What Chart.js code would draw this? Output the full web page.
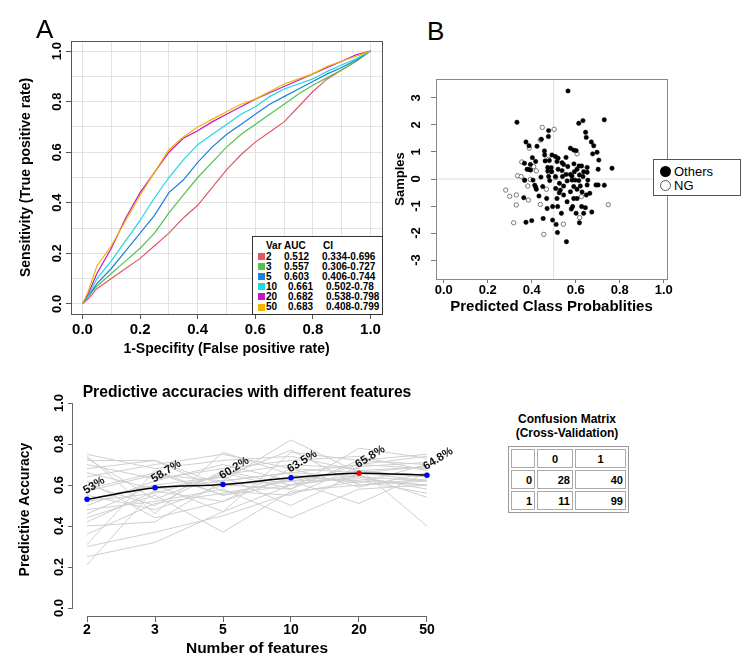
<!DOCTYPE html>
<html>
<head>
<meta charset="utf-8">
<script src="https://cdn.jsdelivr.net/npm/chart.js@4.4.1/dist/chart.umd.min.js"></script>
<style>
  body { margin: 0; background: #fff; font-family: "Liberation Sans", Arial, sans-serif; }
  #page { position: relative; width: 756px; height: 668px; overflow: hidden; background: #fff; }
  canvas { position: absolute; }
  .tag { position: absolute; font-size: 26px; line-height: 26px; color: #000; }
  #rocLegend { position: absolute; left: 252px; top: 236px; width: 129px; height: 77px;
    border: 1px solid #333; background: #fff; font-weight: bold; font-size: 10px; }
  #rocLegend span { position: absolute; line-height: 10px; white-space: pre; }
  #rocLegend .sw { position: absolute; left: 5px; width: 7px; height: 7px; }
  #probLegend { position: absolute; left: 653px; top: 159px; width: 86px; height: 35px;
    border: 1px solid #555; background: #fff; font-size: 13px; }
  #probLegend div { position: absolute; left: 20px; line-height: 14px; }
  #probLegend i { position: absolute; left: 6px; width: 11px; height: 11px; border-radius: 50%; box-sizing: border-box; }
  #cmTitle { position: absolute; left: 497px; top: 412px; width: 140px; text-align: center;
    font-weight: bold; font-size: 12px; line-height: 14px; }
  #cm { position: absolute; left: 508px; top: 446px; border-collapse: separate; border-spacing: 2px;
    border: 1px solid #999; font-size: 11px; font-weight: bold; }
  #cm td { border: 1px solid #aaa; height: 17px; padding: 0 2px; }
</style>
</head>
<body>
<div id="page">
  <canvas id="roc" width="392" height="370" style="left:0;top:0"></canvas>
  <canvas id="probs" width="300" height="265" style="left:380px;top:60px"></canvas>
  <canvas id="acc" width="494" height="298" style="left:0;top:370px"></canvas>
  <div class="tag" style="left:36px;top:16px">A</div>
  <div class="tag" style="left:427px;top:18px">B</div>
  <div id="rocLegend"></div>
  <div id="probLegend"></div>
  <div id="cmTitle">Confusion Matrix<br>(Cross-Validation)</div>
  <table id="cm"></table>
</div>
<script>
const FONT = '"Liberation Sans", Arial, sans-serif';
Chart.defaults.font.family = FONT;
Chart.defaults.color = '#000';

// ---- panel A: ROC curves ----
const rocFpr = [0, 0.02, 0.05, 0.1, 0.15, 0.2, 0.25, 0.3, 0.35, 0.4, 0.45, 0.5, 0.55, 0.6, 0.65, 0.7, 0.75, 0.8, 0.85, 0.9, 0.95, 1];
const tpr2  = [0, 0.02, 0.06, 0.10, 0.14, 0.18, 0.23, 0.28, 0.34, 0.39, 0.46, 0.53, 0.59, 0.64, 0.68, 0.72, 0.78, 0.84, 0.89, 0.925, 0.96, 1];
const tpr3  = [0, 0.03, 0.07, 0.12, 0.17, 0.22, 0.28, 0.36, 0.43, 0.50, 0.56, 0.62, 0.67, 0.71, 0.75, 0.79, 0.83, 0.865, 0.895, 0.925, 0.96, 1];
const tpr5  = [0, 0.03, 0.08, 0.14, 0.21, 0.28, 0.35, 0.44, 0.49, 0.56, 0.62, 0.67, 0.71, 0.75, 0.79, 0.82, 0.85, 0.88, 0.91, 0.935, 0.965, 1];
const tpr10 = [0, 0.03, 0.10, 0.17, 0.25, 0.33, 0.42, 0.50, 0.57, 0.63, 0.67, 0.71, 0.75, 0.78, 0.82, 0.85, 0.87, 0.89, 0.92, 0.945, 0.97, 1];
const tpr20 = [0, 0.04, 0.12, 0.22, 0.34, 0.44, 0.52, 0.60, 0.655, 0.685, 0.72, 0.75, 0.78, 0.81, 0.835, 0.86, 0.885, 0.91, 0.935, 0.96, 0.985, 1];
const tpr50 = [0, 0.05, 0.15, 0.23, 0.33, 0.43, 0.52, 0.61, 0.66, 0.70, 0.73, 0.76, 0.79, 0.81, 0.84, 0.87, 0.89, 0.91, 0.94, 0.96, 0.98, 1];
const rocVars = ['2', '3', '5', '10', '20', '50'];
const rocAuc = ['0.512', '0.557', '0.603', '0.661', '0.682', '0.683'];
const rocCi = ['0.334-0.696', '0.306-0.727', '0.406-0.744', '0.502-0.78', '0.538-0.798', '0.408-0.799'];
const rocColors = ['#e0566c', '#52c24c', '#1f7fdc', '#1ed8e2', '#c416c4', '#f2b400'];
const rocTicks = [0, 0.1, 0.2, 0.3, 0.4, 0.5, 0.6, 0.7, 0.8, 0.9, 1];

// ---- panel B: predicted class probabilities ----
const othersPoints = [
  [0.565,3.26],[0.333,2.10],[0.730,2.19],[0.633,2.16],[0.614,2.06],[0.477,1.79],[0.476,1.57],[0.444,1.47],
  [0.645,1.73],[0.648,1.54],[0.374,1.37],[0.388,1.23],[0.424,1.21],[0.671,1.37],[0.682,1.23],[0.576,1.14],
  [0.591,1.07],[0.602,1.05],[0.697,0.99],[0.677,0.93],[0.458,1.04],[0.459,0.89],[0.492,0.89],[0.508,0.83],
  [0.520,0.77],[0.515,0.65],[0.403,0.79],[0.418,0.65],[0.394,0.54],[0.461,0.67],[0.480,0.68],[0.556,0.80],
  [0.545,0.54],[0.564,0.46],[0.592,0.56],[0.615,0.48],[0.627,0.48],[0.705,0.70],[0.702,0.36],[0.765,0.40],
  [0.367,0.58],[0.379,0.36],[0.395,0.33],[0.473,0.43],[0.489,0.42],[0.473,0.30],[0.520,0.36],[0.538,0.31],
  [0.556,0.17],[0.576,0.17],[0.594,0.27],[0.606,0.36],[0.636,0.27],[0.652,0.25],[0.442,0.07],[0.477,0.09],
  [0.508,0.09],[0.406,-0.04],[0.414,-0.23],[0.418,-0.30],[0.368,-0.04],[0.450,-0.28],[0.509,-0.35],[0.530,-0.41],
  [0.561,-0.07],[0.583,-0.04],[0.597,-0.04],[0.614,-0.06],[0.591,-0.28],[0.606,-0.38],[0.621,-0.26],[0.629,-0.48],
  [0.652,-0.22],[0.664,-0.53],[0.692,-0.22],[0.702,-0.22],[0.730,-0.23],[0.433,-0.63],[0.468,-0.72],[0.515,-0.72],
  [0.545,-0.59],[0.561,-0.84],[0.591,-0.72],[0.606,-0.72],[0.648,-0.59],[0.364,-0.69],[0.470,-1.09],[0.495,-1.02],
  [0.518,-1.02],[0.535,-1.27],[0.586,-1.02],[0.580,-1.11],[0.627,-1.02],[0.644,-1.06],[0.602,-1.27],[0.636,-1.27],
  [0.673,-1.22],[0.374,-1.60],[0.400,-1.54],[0.452,-1.46],[0.495,-1.52],[0.511,-1.68],[0.617,-1.62],[0.517,-1.98],
  [0.558,-2.32],[0.421,-0.38],[0.576,-0.47],[0.540,0.09],[0.583,0.11],[0.617,0.15],[0.633,0.09],[0.526,-0.16],
  [0.545,-0.26],[0.482,-0.06],[0.538,0.60],[0.491,0.27],[0.655,-0.04],[0.652,0.43],[0.525,-0.51],[0.388,0.35]
];
const ngPoints = [
  [0.448,1.91],[0.502,1.84],[0.389,1.14],[0.439,1.44],[0.355,0.63],[0.409,0.46],[0.421,0.30],[0.476,0.26],
  [0.336,0.12],[0.352,0.09],[0.367,-0.05],[0.394,-0.02],[0.382,-0.26],[0.282,-0.41],[0.300,-0.64],[0.330,-0.59],
  [0.330,-0.96],[0.385,-0.78],[0.439,-0.94],[0.318,-1.62],[0.455,-2.05],[0.544,-1.67],[0.618,-1.43],[0.748,-0.95],
  [0.467,-0.38],[0.509,0.05],[0.606,0.93],[0.626,-0.65],[0.477,0.73]
];
const probXTicks = [0, 0.2, 0.4, 0.6, 0.8, 1];
const probYTicks = [-3, -2, -1, 0, 1, 2, 3];

// ---- panel C: predictive accuracy ----
const featureCounts = ['2', '3', '5', '10', '20', '50'];
const meanAcc = [0.53, 0.587, 0.602, 0.635, 0.658, 0.648];
const accLabels = ['53%', '58.7%', '60.2%', '63.5%', '65.8%', '64.8%'];
const accRuns = [
  [0.21, 0.58, 0.62, 0.66, 0.70, 0.68],
  [0.25, 0.32, 0.47, 0.60, 0.64, 0.62],
  [0.30, 0.37, 0.45, 0.56, 0.62, 0.60],
  [0.31, 0.67, 0.55, 0.63, 0.66, 0.64],
  [0.40, 0.42, 0.62, 0.82, 0.66, 0.65],
  [0.44, 0.55, 0.37, 0.57, 0.60, 0.62],
  [0.46, 0.60, 0.47, 0.76, 0.72, 0.70],
  [0.48, 0.52, 0.58, 0.44, 0.58, 0.60],
  [0.50, 0.62, 0.70, 0.62, 0.51, 0.66],
  [0.52, 0.56, 0.65, 0.70, 0.68, 0.40],
  [0.55, 0.48, 0.60, 0.58, 0.78, 0.73],
  [0.57, 0.65, 0.62, 0.66, 0.64, 0.58],
  [0.60, 0.50, 0.67, 0.60, 0.70, 0.74],
  [0.62, 0.44, 0.52, 0.64, 0.62, 0.56],
  [0.64, 0.70, 0.75, 0.68, 0.66, 0.69],
  [0.66, 0.58, 0.64, 0.77, 0.60, 0.63],
  [0.68, 0.72, 0.57, 0.55, 0.69, 0.71],
  [0.70, 0.63, 0.68, 0.72, 0.74, 0.67],
  [0.72, 0.72, 0.60, 0.62, 0.63, 0.60],
  [0.73, 0.53, 0.66, 0.58, 0.72, 0.75],
  [0.75, 0.68, 0.72, 0.74, 0.67, 0.64],
  [0.74, 0.46, 0.76, 0.65, 0.61, 0.70],
  [0.58, 0.66, 0.55, 0.60, 0.65, 0.54],
  [0.42, 0.57, 0.52, 0.68, 0.59, 0.66],
  [0.53, 0.60, 0.64, 0.50, 0.66, 0.62],
  [0.36, 0.51, 0.56, 0.62, 0.67, 0.69]
];
const accYTicks = [0, 0.2, 0.4, 0.6, 0.8, 1];

// ---- confusion matrix ----
const cmClasses = ['0', '1'];
const cmRow0 = [28, 40];
const cmRow1 = [11, 99];

// draws the R style box round the plot region
function framePlugin(color) {
  return {
    id: 'frame',
    afterDatasetsDraw(chart) {
      const a = chart.chartArea;
      const ctx = chart.ctx;
      ctx.save();
      ctx.strokeStyle = color;
      ctx.lineWidth = 1;
      ctx.strokeRect(Math.round(a.left) + 0.5, Math.round(a.top) + 0.5,
        Math.round(a.right - a.left), Math.round(a.bottom - a.top));
      ctx.restore();
    }
  };
}

function setTicks(values) {
  return scale => { scale.ticks = values.map(v => ({ value: v })); };
}

// ---------- A ----------
const rocSeries = [tpr2, tpr3, tpr5, tpr10, tpr20, tpr50];
new Chart(document.getElementById('roc'), {
  type: 'line',
  data: {
    datasets: rocSeries.map((tpr, i) => ({
      label: rocVars[i],
      data: rocFpr.map((x, j) => ({ x, y: tpr[j] })),
      borderColor: rocColors[i],
      borderWidth: 1.2,
      pointRadius: 0,
      tension: 0,
      order: rocSeries.length - i
    }))
  },
  options: {
    responsive: false,
    animation: false,
    layout: { padding: { top: 41, right: 10, left: 0, bottom: 0 } },
    plugins: { legend: { display: false }, tooltip: { enabled: false } },
    scales: {
      x: {
        type: 'linear', min: -0.04, max: 1.04,
        afterBuildTicks: setTicks(rocTicks),
        afterFit: s => { s.height = 56; },
        border: { display: false },
        grid: {
          color: '#e2e2e2', tickLength: 5,
          tickColor: c => (Math.round(c.tick.value * 10) % 2 === 0 ? '#555' : 'rgba(0,0,0,0)')
        },
        ticks: {
          autoSkip: false, maxRotation: 0, padding: 2,
          font: { size: 15, weight: 'bold' },
          callback: v => (Math.round(v * 10) % 2 === 0 ? v.toFixed(1) : '')
        },
        title: {
          display: true, text: '1-Specifity (False positive rate)',
          font: { size: 14, weight: 'bold' }, padding: { top: 0, bottom: 12 }
        }
      },
      y: {
        type: 'linear', min: -0.04, max: 1.04,
        afterBuildTicks: setTicks(rocTicks),
        afterFit: s => { s.width = 71; },
        border: { display: false },
        grid: {
          color: '#e2e2e2', tickLength: 5,
          tickColor: c => (Math.round(c.tick.value * 10) % 2 === 0 ? '#555' : 'rgba(0,0,0,0)')
        },
        ticks: {
          autoSkip: false, minRotation: 90, maxRotation: 90, crossAlign: 'center', padding: 0,
          font: { size: 13, weight: 'bold' },
          callback: v => (Math.round(v * 10) % 2 === 0 ? v.toFixed(1) : '')
        },
        title: {
          display: true, text: 'Sensitivity (True positive rate)',
          font: { size: 14, weight: 'bold' }, padding: { top: 18, bottom: 0 }
        }
      }
    }
  },
  plugins: [framePlugin('#555')]
});

// legend table of panel A
(function () {
  const box = document.getElementById('rocLegend');
  let html = '<span style="left:13px;top:4px">Var</span><span style="left:31px;top:4px">AUC</span>' +
    '<span style="left:70px;top:4px">CI</span>';
  rocVars.forEach((v, i) => {
    const top = 14.5 + i * 10.1;
    const sh = v.length > 1 ? 4 : 0;
    html += `<div class="sw" style="top:${top + 1.5}px;background:${rocColors[i]}"></div>` +
      `<span style="left:13px;top:${top}px">${v}</span>` +
      `<span style="left:${31 + sh}px;top:${top}px">${rocAuc[i]}</span>` +
      `<span style="left:${70 + sh - 1}px;top:${top}px">${rocCi[i]}</span>`;
  });
  box.innerHTML = html;
})();

// ---------- B ----------
new Chart(document.getElementById('probs'), {
  type: 'scatter',
  data: {
    datasets: [
      {
        label: 'Others', data: othersPoints.map(p => ({ x: p[0], y: p[1] })), order: 1,
        pointRadius: 2.2, pointBackgroundColor: '#000', pointBorderColor: '#000', pointBorderWidth: 0.5
      },
      {
        label: 'NG', data: ngPoints.map(p => ({ x: p[0], y: p[1] })), order: 2,
        pointRadius: 2.2, pointBackgroundColor: '#fff', pointBorderColor: '#777', pointBorderWidth: 1
      },
      {
        label: 'ref-x', data: [{ x: 0.5, y: -5 }, { x: 0.5, y: 5 }], showLine: true, order: 3,
        borderColor: '#dddddd', borderWidth: 1, pointRadius: 0
      },
      {
        label: 'ref-y', data: [{ x: -1, y: 0 }, { x: 2, y: 0 }], showLine: true, order: 3,
        borderColor: '#dddddd', borderWidth: 1, pointRadius: 0
      }
    ]
  },
  options: {
    responsive: false,
    animation: false,
    layout: { padding: { top: 19, right: 13, left: 0, bottom: 0 } },
    plugins: { legend: { display: false }, tooltip: { enabled: false } },
    scales: {
      x: {
        type: 'linear', min: -0.035, max: 1.015,
        afterBuildTicks: setTicks(probXTicks),
        afterFit: s => { s.height = 46; },
        border: { display: false },
        grid: { drawOnChartArea: false, tickLength: 4, tickColor: '#777' },
        ticks: {
          autoSkip: false, maxRotation: 0, padding: 0,
          font: { size: 13, weight: 'bold' }, callback: v => v.toFixed(1)
        },
        title: {
          display: true, text: 'Predicted Class Probablities',
          font: { size: 15, weight: 'bold' }, padding: { top: 0, bottom: 9 }
        }
      },
      y: {
        type: 'linear', min: -3.7, max: 3.7,
        afterBuildTicks: setTicks(probYTicks),
        afterFit: s => { s.width = 56; },
        border: { display: false },
        grid: { drawOnChartArea: false, tickLength: 5, tickColor: '#777' },
        ticks: {
          autoSkip: false, minRotation: 90, maxRotation: 90, crossAlign: 'center', padding: 9,
          font: { size: 13, weight: 'bold' }, callback: v => String(v)
        },
        title: {
          display: true, text: 'Samples',
          font: { size: 13, weight: 'bold' }, padding: { top: 13, bottom: 0 }
        }
      }
    }
  },
  plugins: [framePlugin('#888')]
});

document.getElementById('probLegend').innerHTML =
  '<i style="top:6px;background:#000"></i><div style="top:5px">Others</div>' +
  '<i style="top:20px;border:1px solid #555;background:#fff"></i><div style="top:19px">NG</div>';

// ---------- C ----------
const bestIdx = meanAcc.indexOf(Math.max(...meanAcc));

const pctLabels = {
  id: 'pctLabels',
  afterDatasetsDraw(chart) {
    const idx = chart.data.datasets.findIndex(d => d.label === 'mean');
    const meta = chart.getDatasetMeta(idx);
    const ctx = chart.ctx;
    ctx.save();
    ctx.font = 'bold 11.5px ' + FONT;
    ctx.fillStyle = '#111';
    ctx.textAlign = 'left';
    ctx.textBaseline = 'alphabetic';
    meta.data.forEach((pt, i) => {
      ctx.save();
      ctx.translate(pt.x - 1, pt.y - 5);
      ctx.rotate(-32 * Math.PI / 180);
      ctx.fillText(accLabels[i], 0, 0);
      ctx.restore();
    });
    ctx.restore();
  }
};

// R draws its axes only between the first and last tick
const rAxes = {
  id: 'rAxes',
  afterDraw(chart) {
    const { ctx, chartArea, scales: { x, y } } = chart;
    ctx.save();
    ctx.strokeStyle = '#666';
    ctx.lineWidth = 1;
    ctx.beginPath();
    const by = Math.round(chartArea.bottom) + 0.5;
    ctx.moveTo(x.getPixelForValue(0), by);
    ctx.lineTo(x.getPixelForValue(featureCounts.length - 1), by);
    const lx = Math.round(chartArea.left) - 0.5;
    ctx.moveTo(lx, y.getPixelForValue(0));
    ctx.lineTo(lx, y.getPixelForValue(1));
    ctx.stroke();
    ctx.restore();
  }
};

new Chart(document.getElementById('acc'), {
  type: 'line',
  data: {
    datasets: [
      {
        label: 'mean',
        data: meanAcc.map((v, i) => ({ x: i, y: v })),
        order: 0,
        borderColor: '#000', borderWidth: 1.5,
        tension: 0.4, cubicInterpolationMode: 'monotone',
        pointRadius: 2,
        pointBackgroundColor: meanAcc.map((v, i) => (i === bestIdx ? '#ff0000' : '#0000ff')),
        pointBorderColor: meanAcc.map((v, i) => (i === bestIdx ? '#ff0000' : '#0000ff'))
      },
      ...accRuns.map((run, k) => ({
        label: 'run' + k,
        data: run.map((v, i) => ({ x: i, y: v })),
        order: 1,
        borderColor: '#cfcfcf', borderWidth: 1, pointRadius: 0, tension: 0
      }))
    ]
  },
  options: {
    responsive: false,
    animation: false,
    layout: { padding: { top: 0, right: 0, left: 0, bottom: 0 } },
    plugins: {
      legend: { display: false },
      tooltip: { enabled: false },
      title: {
        display: true, text: 'Predictive accuracies with different features',
        font: { size: 15.7, weight: 'bold' }, color: '#000',
        padding: { top: 13.6, bottom: 0.6 }
      }
    },
    scales: {
      x: {
        type: 'linear', min: -0.206, max: 5.206,
        afterBuildTicks: setTicks(featureCounts.map((c, i) => i)),
        afterFit: s => { s.height = 52; },
        border: { display: false },
        grid: { drawOnChartArea: false, tickLength: 6, tickColor: '#666' },
        ticks: {
          autoSkip: false, maxRotation: 0, padding: 0,
          font: { size: 14, weight: 'bold' }, callback: v => featureCounts[v]
        },
        title: {
          display: true, text: 'Number of features',
          font: { size: 15.5, weight: 'bold' }, padding: { top: 0, bottom: 10 }
        }
      },
      y: {
        type: 'linear', min: -0.039, max: 1.0,
        afterBuildTicks: setTicks(accYTicks),
        afterFit: s => { s.width = 73; },
        border: { display: false },
        grid: { drawOnChartArea: false, tickLength: 5, tickColor: '#666' },
        ticks: {
          autoSkip: false, minRotation: 90, maxRotation: 90, crossAlign: 'center', padding: 0,
          font: { size: 13, weight: 'bold' }, callback: v => v.toFixed(1)
        },
        title: {
          display: true, text: 'Predictive Accuracy',
          font: { size: 14, weight: 'bold' }, padding: { top: 17, bottom: 0 }
        }
      },
      // empty right margin so the title centres on the whole figure row
      gap: {
        type: 'linear', position: 'right', display: true,
        afterFit: s => { s.width = 53; },
        border: { display: false },
        grid: { display: false },
        ticks: { display: false }
      }
    }
  },
  plugins: [pctLabels, rAxes]
});

// ---------- confusion matrix table ----------
(function () {
  const widths = [18, 30, 45];
  const rows = [['', ...cmClasses], [cmClasses[0], ...cmRow0], [cmClasses[1], ...cmRow1]];
  document.getElementById('cm').innerHTML = rows.map((r, ri) =>
    '<tr>' + r.map((cell, ci) =>
      `<td style="width:${widths[ci]}px;text-align:${ri === 0 ? 'center' : 'right'}">${cell}</td>`
    ).join('') + '</tr>'
  ).join('');
})();
</script>
</body>
</html>
